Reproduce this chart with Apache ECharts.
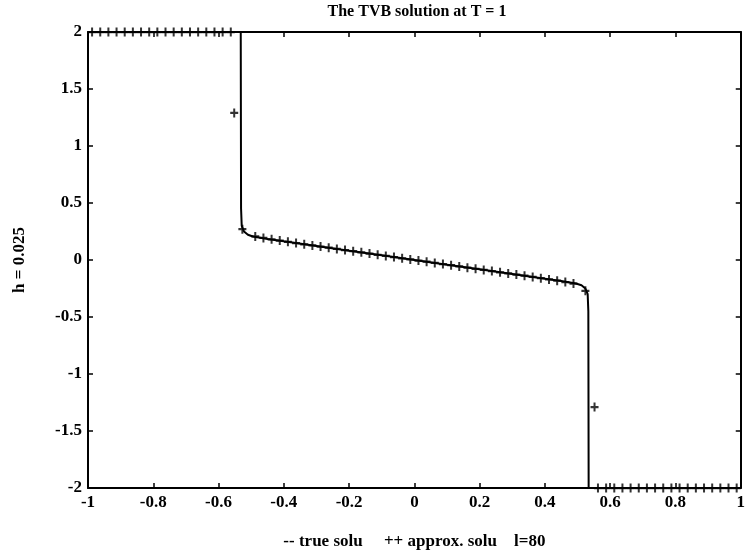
<!DOCTYPE html>
<html>
<head>
<meta charset="utf-8">
<script src="https://cdn.jsdelivr.net/npm/echarts@6/dist/echarts.min.js"></script>
<style>html,body{margin:0;padding:0;background:#fff}#c{width:748px;height:558px}</style>
</head>
<body>
<div id="c"></div>
<script>
// True solution (solid line)
const trueX = [-1, -0.532, -0.531, -0.529, -0.522, -0.51, -0.495, -0.45, -0.4, -0.3, -0.2, -0.1, 0,
               0.1, 0.2, 0.3, 0.4, 0.45, 0.495, 0.512, 0.524, 0.531, 0.533, 0.534, 1];
const trueY = [2, 2, 0.45, 0.3, 0.25, 0.222, 0.206, 0.185, 0.164, 0.123, 0.082, 0.041, 0,
               -0.041, -0.082, -0.123, -0.164, -0.185, -0.206, -0.222, -0.25, -0.3, -0.45, -2, -2];

// Approximate solution (+ markers), l = 80 cells
const approxX = [
  -0.9875, -0.9625, -0.9375, -0.9125, -0.8875, -0.8625, -0.8375, -0.8125, -0.7875, -0.7625,
  -0.7375, -0.7125, -0.6875, -0.6625, -0.6375, -0.6125, -0.5875, -0.5625, -0.552, -0.527,
  -0.4875, -0.4625, -0.4375, -0.4125, -0.3875, -0.3625, -0.3375, -0.3125, -0.2875, -0.2625,
  -0.2375, -0.2125, -0.1875, -0.1625, -0.1375, -0.1125, -0.0875, -0.0625, -0.0375, -0.0125,
  0.0125, 0.0375, 0.0625, 0.0875, 0.1125, 0.1375, 0.1625, 0.1875, 0.2125, 0.2375,
  0.2625, 0.2875, 0.3125, 0.3375, 0.3625, 0.3875, 0.4125, 0.4375, 0.4625, 0.4875,
  0.524, 0.552, 0.5625, 0.5875, 0.6125, 0.6375, 0.6625, 0.6875, 0.7125, 0.7375,
  0.7625, 0.7875, 0.8125, 0.8375, 0.8625, 0.8875, 0.9125, 0.9375, 0.9625, 0.9875
];
const approxY = [
  2, 2, 2, 2, 2, 2, 2, 2, 2, 2,
  2, 2, 2, 2, 2, 2, 2, 2, 1.29, 0.27,
  0.207, 0.193, 0.181, 0.170, 0.159, 0.149, 0.138, 0.128, 0.118, 0.108,
  0.097, 0.087, 0.077, 0.067, 0.056, 0.046, 0.036, 0.026, 0.015, 0.005,
  -0.005, -0.015, -0.026, -0.036, -0.046, -0.056, -0.067, -0.077, -0.087, -0.097,
  -0.108, -0.118, -0.128, -0.138, -0.149, -0.159, -0.170, -0.181, -0.193, -0.207,
  -0.27, -1.29, -2, -2, -2, -2, -2, -2, -2, -2,
  -2, -2, -2, -2, -2, -2, -2, -2, -2, -2
];

const titleText = 'The TVB solution at T = 1';
const yName = 'h = 0.025';
const xName = '-- true solu     ++ approx. solu    l=80';

const FONT = "'Liberation Serif', 'Times New Roman', serif";
const chart = echarts.init(document.getElementById('c'));

const tickCommon = { show: true, inside: true, length: 5, lineStyle: { color: '#000', width: 1.5 } };
const lineCommon = { show: true, onZero: false, lineStyle: { color: '#000', width: 2 } };
const labelCommon = { color: '#000', fontFamily: FONT, fontSize: 17, fontWeight: 'bold' };

chart.setOption({
  animation: false,
  backgroundColor: '#fff',
  graphic: [{
    type: 'text', x: 417, y: 4, z: 10,
    style: { text: titleText, fill: '#000', font: "bold 16px 'Liberation Serif', serif", textAlign: 'center', textVerticalAlign: 'top' }
  }],
  grid: { left: 88, right: 3, top: 32, bottom: 70 },
  xAxis: [{
    type: 'value', min: -1, max: 1, interval: 0.2, position: 'bottom',
    axisLine: lineCommon, axisTick: tickCommon, splitLine: { show: false },
    axisLabel: Object.assign({ margin: 6 }, labelCommon),
    name: xName, nameLocation: 'middle', nameGap: 45,
    nameTextStyle: { fontFamily: FONT, fontSize: 17, fontWeight: 'bold', color: '#000' }
  }, {
    type: 'value', min: -1, max: 1, interval: 0.2, position: 'top',
    axisLine: lineCommon, axisTick: tickCommon, splitLine: { show: false },
    axisLabel: { show: false }
  }],
  yAxis: [{
    type: 'value', min: -2, max: 2, interval: 0.5, position: 'left',
    axisLine: lineCommon, axisTick: tickCommon, splitLine: { show: false },
    axisLabel: Object.assign({ margin: 6 }, labelCommon),
    name: yName, nameLocation: 'middle', nameGap: 60, nameRotate: 90,
    nameTextStyle: { fontFamily: FONT, fontSize: 17, fontWeight: 'bold', color: '#000' }
  }, {
    type: 'value', min: -2, max: 2, interval: 0.5, position: 'right',
    axisLine: lineCommon, axisTick: tickCommon, splitLine: { show: false },
    axisLabel: { show: false }
  }],
  series: [{
    type: 'line',
    data: trueX.map((x, i) => [x, trueY[i]]),
    showSymbol: false, symbol: 'none', clip: false,
    lineStyle: { color: '#000', width: 2 },
    z: 2
  }, {
    type: 'scatter',
    data: approxX.map((x, i) => [x, approxY[i]]),
    symbol: 'path://M3.75,0h2.5v3.75h3.75v2.5h-3.75v3.75h-2.5v-3.75h-3.75v-2.5h3.75z',
    symbolSize: [8, 9], clip: false,
    itemStyle: { color: '#000' },
    z: 3
  }]
});
</script>
</body>
</html>
